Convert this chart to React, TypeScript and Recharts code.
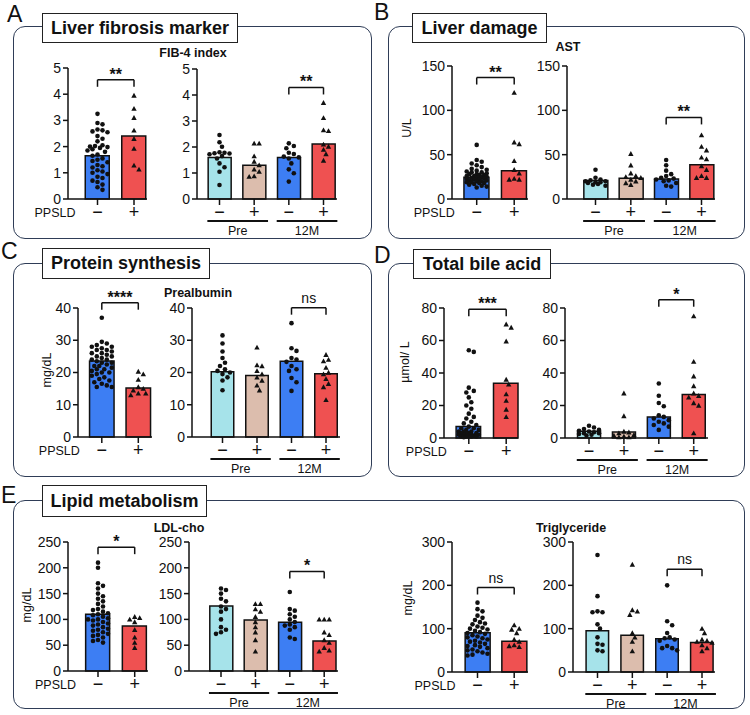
import React from 'react';
import { ComposedChart, Bar, Cell, Scatter, XAxis, YAxis, ReferenceLine } from 'recharts';

// ---------- shared labels ----------
const SIGNS_2 = ['\u2212', '+'];
const SIGNS_4 = ['\u2212', '+', '\u2212', '+'];
const TIMEPOINTS = ['Pre', '12M'];

// ---------- FIB-4 index ----------
const FIB4_TICKS = [0, 1, 2, 3, 4, 5];
const FIB4_SIG = ['**', '**'];
const FIB4_PPSLD_MEAN = [1.65, 2.4];
const FIB4_PPSLD_NEG = [3.25, 2.9, 2.85, 2.65, 2.62, 2.58, 2.55, 2.4, 2.3, 2.2, 2.05, 2.02, 2.0, 1.98, 1.95, 1.9, 1.85, 1.8, 1.7, 1.65, 1.55, 1.5, 1.45, 1.4, 1.3, 1.25, 1.2, 1.1, 1.05, 1.0, 0.95, 0.85, 0.8, 0.7, 0.65, 0.55, 0.45, 0.35];
const FIB4_PPSLD_POS = [3.95, 3.45, 3.1, 2.62, 2.3, 1.92, 1.28, 1.13];
const FIB4_TIME_MEAN = [1.6, 1.3, 1.6, 2.12];
const FIB4_PRE_NEG = [2.46, 2.18, 2.01, 1.8, 1.78, 1.76, 1.75, 1.72, 1.65, 1.56, 1.37, 1.22, 1.05, 0.54];
const FIB4_PRE_POS = [2.14, 2.14, 1.65, 1.44, 1.3, 1.14, 1.05, 0.88, 0.86];
const FIB4_12M_NEG = [2.14, 2.04, 1.95, 1.78, 1.73, 1.63, 1.6, 1.56, 1.37, 1.14, 0.99, 0.67];
const FIB4_12M_POS = [3.7, 3.12, 2.65, 2.62, 2.1, 2.02, 1.9, 1.73, 1.48];

// ---------- AST ----------
const AST_TICKS = [0, 50, 100, 150];
const AST_SIG = ['**', '**'];
const AST_PPSLD_MEAN = [24.5, 32];
const AST_PPSLD_NEG = [61, 44, 42, 40, 38, 36, 34, 33, 32, 31, 30, 30, 29, 28, 28, 27, 27, 26, 26, 25, 25, 24, 24, 23, 23, 22, 22, 21, 21, 20, 20, 19, 19, 18, 18, 17, 16, 15, 14, 13];
const AST_PPSLD_POS = [120, 64, 62, 43, 33, 29, 23, 22, 22];
const AST_TIME_MEAN = [21, 23.5, 22.5, 38.5];
const AST_PRE_NEG = [33, 24, 22, 21, 20, 20, 19, 19, 18, 17, 16, 15];
const AST_PRE_POS = [51, 38, 29, 26, 25, 24, 22, 20, 18, 16];
const AST_12M_NEG = [44, 38, 32, 28, 26, 24, 23, 22, 21, 20, 18, 15, 14];
const AST_12M_POS = [72, 59, 55, 47, 45, 37, 33, 26, 24, 24];

// ---------- Prealbumin ----------
const PAB_TICKS = [0, 10, 20, 30, 40];
const PAB_SIG = ['****', 'ns'];
const PAB_PPSLD_MEAN = [23.6, 15.2];
const PAB_PPSLD_NEG = [37, 29.5, 29, 28.5, 28, 28, 27.5, 27, 27, 26.5, 26, 26, 25.5, 25, 25, 24.5, 24, 24, 23.5, 23, 23, 22.5, 22, 22, 21.5, 21, 21, 20.5, 20, 20, 19.5, 19, 18.5, 18, 17.5, 17, 16.5, 16, 15.5, 15.5];
const PAB_PPSLD_POS = [20.3, 19.5, 17.8, 15.5, 15, 14.5, 13.5, 13.5, 13];
const PAB_TIME_MEAN = [20.2, 19.1, 23.5, 19.6];
const PAB_PRE_NEG = [31.5, 29, 26.5, 24.5, 23, 22, 21, 20.5, 20, 19.5, 18.5, 17.5, 14.5];
const PAB_PRE_POS = [27.8, 22.3, 22, 20.5, 19.5, 18.5, 17.5, 16, 14.5];
const PAB_12M_NEG = [35.3, 27.5, 26.7, 24.5, 24, 23.3, 22, 21, 20.5, 18.3, 17, 14.3];
const PAB_12M_POS = [25.5, 24, 23.5, 21.5, 20, 19.5, 18, 16.5, 15.5, 11.5];

// ---------- Total bile acid ----------
const TBA_TICKS = [0, 20, 40, 60, 80];
const TBA_SIG = ['***', '*'];
const TBA_PPSLD_MEAN = [7.1, 33.7];
const TBA_PPSLD_NEG = [54, 53, 31, 29, 28, 25, 22, 20, 18, 15, 13, 12, 10, 9, 8, 7, 6, 6, 5, 5, 4, 4, 4, 3, 3, 3, 3, 2, 2, 2, 2, 1.5, 1.5, 1, 1, 1, 1, 0.5];
const TBA_PPSLD_POS = [70, 68, 59.5, 36, 33, 27, 23, 17.5, 13];
const TBA_TIME_MEAN = [4.1, 3.7, 12.9, 26.7];
const TBA_PRE_NEG = [7.5, 6.5, 5.5, 5, 4.5, 4, 3.5, 3, 3, 2.5, 2, 1.5];
const TBA_PRE_POS = [27.5, 13.5, 4, 3.5, 3, 2, 1.5, 1, 0.5, 0.5];
const TBA_12M_NEG = [33.5, 26, 21.5, 19.5, 14, 13, 12, 11, 10, 9, 8, 7, 5];
const TBA_12M_POS = [75, 47, 38, 32, 27.5, 26, 25, 21.5, 20, 3];

// ---------- LDL-cho ----------
const LDL_TICKS = [0, 50, 100, 150, 200, 250];
const LDL_SIG = ['*', '*'];
const LDL_PPSLD_MEAN = [110, 87.4];
const LDL_PPSLD_NEG = [210, 200, 170, 165, 160, 150, 145, 140, 135, 130, 125, 120, 118, 115, 112, 110, 108, 105, 102, 100, 100, 98, 95, 92, 90, 88, 85, 82, 80, 78, 75, 72, 70, 68, 65, 60, 58, 55];
const LDL_PPSLD_POS = [105, 103, 100, 95, 80, 65, 55, 45];
const LDL_TIME_MEAN = [126, 99, 94.5, 58.3];
const LDL_PRE_NEG = [160, 157, 150, 140, 135, 125, 120, 115, 100, 85, 80, 75, 72];
const LDL_PRE_POS = [130, 130, 120, 115, 105, 95, 85, 75, 60, 38];
const LDL_12M_NEG = [153, 120, 117, 110, 105, 100, 95, 90, 88, 85, 80, 65, 62];
const LDL_12M_POS = [100, 100, 100, 75, 70, 60, 55, 45, 40, 38];

// ---------- Triglyceride ----------
const TG_TICKS = [0, 100, 200, 300];
const TG_SIG = ['ns', 'ns'];
const TG_PPSLD_MEAN = [90.5, 71];
const TG_PPSLD_NEG = [160, 145, 140, 130, 125, 120, 115, 112, 110, 105, 102, 100, 98, 95, 92, 90, 88, 85, 82, 80, 78, 75, 72, 70, 68, 65, 62, 60, 58, 55, 52, 50, 48, 45, 42, 40, 38];
const TG_PPSLD_POS = [108, 100, 98, 90, 75, 70, 62, 60, 58];
const TG_TIME_MEAN = [95, 85, 77, 68];
const TG_PRE_NEG = [270, 175, 140, 138, 138, 110, 100, 80, 65, 63, 50, 48];
const TG_PRE_POS = [248, 143, 140, 132, 90, 80, 70, 48];
const TG_12M_NEG = [200, 117, 108, 90, 80, 78, 75, 72, 60, 55, 55, 50];
const TG_12M_POS = [100, 90, 75, 72, 70, 68, 62, 55, 48];

// ---------- styling ----------
const FONT = '"Liberation Sans", Arial, Helvetica, sans-serif';
const INK = '#111';
const FRAME = '#2f3d57';
const FILLS_2 = ['#3d7ef3', '#ef5151'];
const FILLS_4 = ['#a6e3ea', '#dcbdad', '#3d7ef3', '#ef5151'];
const YW = 56; // y-axis gutter
const MT = 30; // room for brackets above the plot
const MR = 6;
const XH = 46; // signs + timepoint lines below the axis

type ChartSpec = {
  signs: string[];
  means: number[];
  points: number[][];
  yTicks: number[];
  sig: string;
  pair: [number, number];
  bracketY: number;
  groups?: string[];
  yLabel?: string;
  ppsld?: boolean;
  // layout in page pixels
  axisX: number;
  axisEnd: number;
  top: number;
  base: number;
  centers: number[];
  barW: number;
  yLabelGap?: number;
  yLabelDy?: number;
};

const CHARTS: ChartSpec[] = [
  // A
  { signs: SIGNS_2, means: FIB4_PPSLD_MEAN, points: [FIB4_PPSLD_NEG, FIB4_PPSLD_POS], yTicks: FIB4_TICKS, sig: FIB4_SIG[0], pair: [0, 1], bracketY: 4.55, ppsld: true,
    axisX: 68, axisEnd: 147, top: 68, base: 199, centers: [97.5, 134], barW: 24 },
  { signs: SIGNS_4, means: FIB4_TIME_MEAN, points: [FIB4_PRE_NEG, FIB4_PRE_POS, FIB4_12M_NEG, FIB4_12M_POS], yTicks: FIB4_TICKS, sig: FIB4_SIG[1], pair: [2, 3], bracketY: 4.29, groups: TIMEPOINTS,
    axisX: 197, axisEnd: 337, top: 69, base: 199, centers: [219.5, 254, 288.5, 323.5], barW: 23 },
  // B
  { signs: SIGNS_2, means: AST_PPSLD_MEAN, points: [AST_PPSLD_NEG, AST_PPSLD_POS], yTicks: AST_TICKS, sig: AST_SIG[0], pair: [0, 1], bracketY: 137, ppsld: true, yLabel: 'U/L', yLabelGap: 45, yLabelDy: -5,
    axisX: 452, axisEnd: 528, top: 66, base: 199, centers: [476.7, 514.2], barW: 25 },
  { signs: SIGNS_4, means: AST_TIME_MEAN, points: [AST_PRE_NEG, AST_PRE_POS, AST_12M_NEG, AST_12M_POS], yTicks: AST_TICKS, sig: AST_SIG[1], pair: [2, 3], bracketY: 92, groups: TIMEPOINTS,
    axisX: 567, axisEnd: 715, top: 66, base: 199, centers: [595.5, 631, 666, 701.5], barW: 24 },
  // C
  { signs: SIGNS_2, means: PAB_PPSLD_MEAN, points: [PAB_PPSLD_NEG, PAB_PPSLD_POS], yTicks: PAB_TICKS, sig: PAB_SIG[0], pair: [0, 1], bracketY: 41.65, ppsld: true, yLabel: 'mg/dL', yLabelGap: 31, yLabelDy: -3,
    axisX: 78, axisEnd: 152, top: 308, base: 437, centers: [101.8, 138.3], barW: 24.5 },
  { signs: SIGNS_4, means: PAB_TIME_MEAN, points: [PAB_PRE_NEG, PAB_PRE_POS, PAB_12M_NEG, PAB_12M_POS], yTicks: PAB_TICKS, sig: PAB_SIG[1], pair: [2, 3], bracketY: 40.1, groups: TIMEPOINTS,
    axisX: 192, axisEnd: 340, top: 308, base: 437, centers: [222.5, 257, 292, 326], barW: 22.5 },
  // D
  { signs: SIGNS_2, means: TBA_PPSLD_MEAN, points: [TBA_PPSLD_NEG, TBA_PPSLD_POS], yTicks: TBA_TICKS, sig: TBA_SIG[0], pair: [0, 1], bracketY: 79.2, ppsld: true, yLabel: '\u00b5mol/ L', yLabelGap: 39, yLabelDy: -11,
    axisX: 444, axisEnd: 518, top: 308, base: 438, centers: [468.8, 506.2], barW: 24.5 },
  { signs: SIGNS_4, means: TBA_TIME_MEAN, points: [TBA_PRE_NEG, TBA_PRE_POS, TBA_12M_NEG, TBA_12M_POS], yTicks: TBA_TICKS, sig: TBA_SIG[1], pair: [2, 3], bracketY: 85.1, groups: TIMEPOINTS,
    axisX: 565, axisEnd: 708, top: 308, base: 438, centers: [589, 624, 659, 693.7], barW: 23 },
  // E
  { signs: SIGNS_2, means: LDL_PPSLD_MEAN, points: [LDL_PPSLD_NEG, LDL_PPSLD_POS], yTicks: LDL_TICKS, sig: LDL_SIG[0], pair: [0, 1], bracketY: 240, ppsld: true, yLabel: 'mg/dL', yLabelGap: 41, yLabelDy: -2,
    axisX: 68, axisEnd: 148, top: 542, base: 671, centers: [98, 134.7], barW: 24 },
  { signs: SIGNS_4, means: LDL_TIME_MEAN, points: [LDL_PRE_NEG, LDL_PRE_POS, LDL_12M_NEG, LDL_12M_POS], yTicks: LDL_TICKS, sig: LDL_SIG[1], pair: [2, 3], bracketY: 193, groups: TIMEPOINTS,
    axisX: 189, axisEnd: 338, top: 542, base: 671, centers: [221, 255.3, 290, 324.2], barW: 23 },
  { signs: SIGNS_2, means: TG_PPSLD_MEAN, points: [TG_PPSLD_NEG, TG_PPSLD_POS], yTicks: TG_TICKS, sig: TG_SIG[0], pair: [0, 1], bracketY: 195, ppsld: true, yLabel: 'mg/dL', yLabelGap: 44, yLabelDy: -9,
    axisX: 452, axisEnd: 528, top: 542, base: 672, centers: [477.5, 514.2], barW: 25 },
  { signs: SIGNS_4, means: TG_TIME_MEAN, points: [TG_PRE_NEG, TG_PRE_POS, TG_12M_NEG, TG_12M_POS], yTicks: TG_TICKS, sig: TG_SIG[1], pair: [2, 3], bracketY: 237, groups: TIMEPOINTS,
    axisX: 573, axisEnd: 715, top: 542, base: 672, centers: [597.5, 633, 668, 702], barW: 22.5 },
];

const PANELS = [
  { letter: 'A', title: 'Liver fibrosis marker', box: [13, 26, 372, 239], head: [42, 13, 238, 43], at: [7, 3] },
  { letter: 'B', title: 'Liver damage', box: [388, 26, 745, 239], head: [412, 13, 547, 43], at: [374, 1] },
  { letter: 'C', title: 'Protein synthesis', box: [13, 263, 372, 477], head: [42, 248, 210, 279], at: [1, 240] },
  { letter: 'D', title: 'Total bile acid', box: [388, 263, 745, 477], head: [413, 249, 551, 279], at: [374, 244] },
  { letter: 'E', title: 'Lipid metabolism', box: [13, 500, 745, 709], head: [42, 485, 207, 517], at: [1, 484] },
];

const CHART_TITLES = [
  { text: 'FIB-4 index', x: 193, y: 53 },
  { text: 'AST', x: 568, y: 47 },
  { text: 'Prealbumin', x: 198, y: 293 },
  { text: 'LDL-cho', x: 179, y: 528 },
  { text: 'Triglyceride', x: 571, y: 528 },
];

// Deterministic beeswarm: spread each group's dots sideways so they don't overlap.
function swarm(values: number[], xi: number, pxPerY: number, step: number, barW: number) {
  const minD = 5;
  const lim = barW / 2 - 0.5;
  const placed: { px: number; py: number }[] = [];
  const sorted = [...values].sort((p, q) => q - p);
  return sorted.map((v) => {
    const py = v * pxPerY;
    let best = 0;
    let bestGap = -1;
    for (let k = 0; k <= 16; k++) {
      const dx = k === 0 ? 0 : (k % 2 ? 1 : -1) * Math.ceil(k / 2) * (minD / 2);
      if (Math.abs(dx) > lim) break;
      const gap = Math.min(Infinity, ...placed.map((p) => Math.hypot(p.px - dx, p.py - py)));
      if (gap >= minD) {
        best = dx;
        break;
      }
      if (gap > bestGap) {
        bestGap = gap;
        best = dx;
      }
    }
    placed.push({ px: best, py });
    return { x: xi + best / step, y: v };
  });
}

const Dot = (p: any) => <circle cx={p.cx} cy={p.cy} r={2.3} fill={INK} />;
const Tri = (p: any) => {
  const s = 2.7;
  return <path d={`M${p.cx},${p.cy - s} L${p.cx + s},${p.cy + s * 0.8} L${p.cx - s},${p.cy + s * 0.8} Z`} fill={INK} />;
};

const MiniChart: React.FC<{ spec: ChartSpec }> = ({ spec }) => {
  const n = spec.means.length;
  const plotW = spec.axisEnd - spec.axisX;
  const plotH = spec.base - spec.top;
  const yMax = spec.yTicks[spec.yTicks.length - 1];
  const c0 = spec.centers[0];
  const step = (spec.centers[n - 1] - c0) / (n - 1);
  const xLo = (spec.axisX - c0) / step;
  const xHi = (spec.axisEnd - c0) / step;
  const pxPerY = plotH / yMax;
  const axisY = MT + plotH;
  const fills = n === 2 ? FILLS_2 : FILLS_4;
  const cats = spec.means.map((_, i) => i);

  const bars = spec.means.map((m, i) => ({ x: i, y: m }));
  const swarms = spec.points.map((vals, i) => swarm(vals, i, pxPerY, step, spec.barW));
  const circles = swarms.filter((_, i) => i % 2 === 0).flat();
  const triangles = swarms.filter((_, i) => i % 2 === 1).flat();

  const [a, b] = spec.pair;
  const h = spec.bracketY;
  const leg = 7 / pxPerY;
  const star = spec.sig.startsWith('*');
  const lineY = -22 / pxPerY;

  const signTick = (props: any) => {
    const { x, payload, index } = props;
    return (
      <g>
        <text x={x} y={axisY + 13} textAnchor="middle" dominantBaseline="central" fontSize={18} fill={INK}>
          {spec.signs[payload.value]}
        </text>
        {spec.ppsld && index === 0 && (
          <text x={x - 22} y={axisY + 14} textAnchor="end" dominantBaseline="central" fontSize={12.5} fill={INK}>
            PPSLD
          </text>
        )}
      </g>
    );
  };

  const axisStroke = { stroke: INK, strokeWidth: 1.5 };

  return (
    <>
      <div style={{ position: 'absolute', left: spec.axisX - YW, top: spec.top - MT }}>
        <ComposedChart
          width={YW + plotW + MR}
          height={MT + plotH + XH}
          data={bars}
          margin={{ top: MT, right: MR, bottom: 0, left: 0 }}
        >
          <XAxis
            type="number"
            dataKey="x"
            domain={[xLo, xHi]}
            ticks={cats}
            interval={0}
            height={XH}
            tickSize={6}
            axisLine={axisStroke}
            tickLine={axisStroke}
            tick={signTick}
          />
          {/* hidden twin axis so the bar band width comes from the categories only */}
          <XAxis xAxisId="bars" type="number" dataKey="x" domain={[xLo, xHi]} ticks={cats} hide />
          <YAxis
            type="number"
            dataKey="y"
            domain={[0, yMax]}
            ticks={spec.yTicks}
            interval={0}
            width={YW}
            tickSize={5}
            tickMargin={2}
            axisLine={axisStroke}
            tickLine={axisStroke}
            tick={{ fontSize: 14, fill: INK }}
          />
          <Bar xAxisId="bars" dataKey="y" barSize={spec.barW} stroke={INK} strokeWidth={1.5} isAnimationActive={false}>
            {bars.map((_, i) => (
              <Cell key={i} fill={fills[i]} />
            ))}
          </Bar>
          <Scatter data={circles} dataKey="y" shape={Dot} isAnimationActive={false} />
          <Scatter data={triangles} dataKey="y" shape={Tri} isAnimationActive={false} />
          {/* significance bracket */}
          <ReferenceLine
            segment={[{ x: a, y: h }, { x: b, y: h }]}
            stroke={INK}
            strokeWidth={1.5}
            ifOverflow="visible"
            label={{
              value: spec.sig,
              position: 'top',
              offset: star ? 0 : 5,
              fontSize: star ? 16 : 14,
              fontWeight: star ? 700 : 400,
              fill: INK,
            }}
          />
          <ReferenceLine segment={[{ x: a, y: h }, { x: a, y: h - leg }]} stroke={INK} strokeWidth={1.5} ifOverflow="visible" />
          <ReferenceLine segment={[{ x: b, y: h }, { x: b, y: h - leg }]} stroke={INK} strokeWidth={1.5} ifOverflow="visible" />
          {/* timepoint underlines */}
          {spec.groups?.map((g, gi) => (
            <ReferenceLine
              key={g}
              segment={[{ x: gi * 2 - 0.35, y: lineY }, { x: gi * 2 + 1.4, y: lineY }]}
              stroke={INK}
              strokeWidth={2}
              ifOverflow="visible"
              label={{ value: g, position: 'bottom', offset: 5, fontSize: 12.5, fill: INK }}
            />
          ))}
        </ComposedChart>
      </div>
      {spec.yLabel && (
        <div
          style={{
            position: 'absolute',
            left: spec.axisX - (spec.yLabelGap ?? 40),
            top: (spec.top + spec.base) / 2 + (spec.yLabelDy ?? 0),
            transform: 'translate(-50%, -50%) rotate(-90deg)',
            fontSize: 12.5,
            color: INK,
            whiteSpace: 'nowrap',
          }}
        >
          {spec.yLabel}
        </div>
      )}
    </>
  );
};

export default function App() {
  return (
    <div
      style={{
        position: 'absolute',
        left: 0,
        top: 0,
        width: 750,
        height: 715,
        background: '#fff',
        fontFamily: FONT,
        color: INK,
        overflow: 'hidden',
      }}
    >
      {PANELS.map((p) => (
        <React.Fragment key={p.letter}>
          <div
            style={{
              position: 'absolute',
              left: p.box[0],
              top: p.box[1],
              width: p.box[2] - p.box[0],
              height: p.box[3] - p.box[1],
              border: `1.5px solid ${FRAME}`,
              borderRadius: 12,
              boxSizing: 'border-box',
            }}
          />
          <div
            style={{
              position: 'absolute',
              left: p.head[0],
              top: p.head[1],
              width: p.head[2] - p.head[0],
              height: p.head[3] - p.head[1],
              border: '1.5px solid #222',
              background: '#fff',
              boxSizing: 'border-box',
              display: 'flex',
              alignItems: 'center',
              justifyContent: 'center',
              fontSize: 18,
              fontWeight: 700,
            }}
          >
            {p.title}
          </div>
          <div style={{ position: 'absolute', left: p.at[0], top: p.at[1], fontSize: 23, lineHeight: 1 }}>{p.letter}</div>
        </React.Fragment>
      ))}
      {CHART_TITLES.map((t) => (
        <div
          key={t.text}
          style={{
            position: 'absolute',
            left: t.x,
            top: t.y,
            transform: 'translate(-50%, -50%)',
            fontSize: 12.5,
            fontWeight: 700,
            whiteSpace: 'nowrap',
          }}
        >
          {t.text}
        </div>
      ))}
      {CHARTS.map((c, i) => (
        <MiniChart key={i} spec={c} />
      ))}
    </div>
  );
}
